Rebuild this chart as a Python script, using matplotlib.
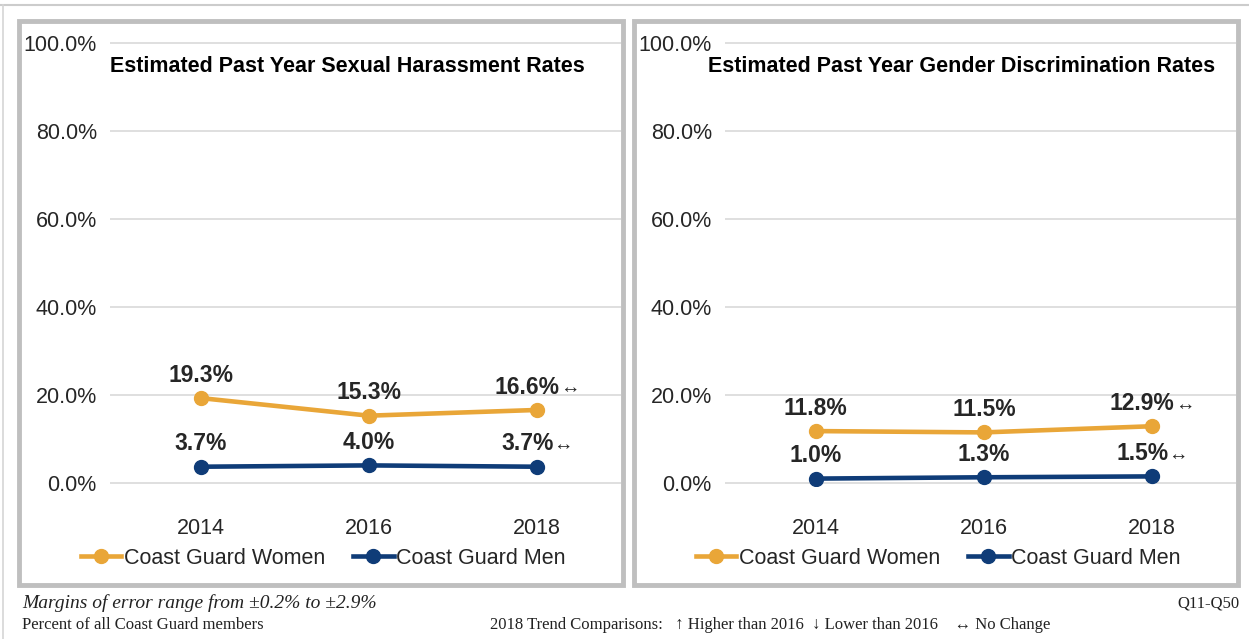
import matplotlib
matplotlib.use("Agg")
import matplotlib.pyplot as plt
from matplotlib.lines import Line2D
from matplotlib.patches import Rectangle
from matplotlib.offsetbox import TextArea, HPacker, AnnotationBbox

plt.rcParams['font.family'] = ['Liberation Sans', 'DejaVu Sans']

# ---- data ----
years = ['2014', '2016', '2018']
sh_women = [19.3, 15.3, 16.6]
sh_men = [3.7, 4.0, 3.7]
gd_women = [11.8, 11.5, 12.9]
gd_men = [1.0, 1.3, 1.5]
trend_women = ['', '', '↔']
trend_sh_men = ['', '', '↔']
trend_gd_men = ['', '', '↔']
yticks = [0, 20, 40, 60, 80, 100]
titles = ['Estimated Past Year Sexual Harassment Rates',
          'Estimated Past Year Gender Discrimination Rates']
series_names = ['Coast Guard Women', 'Coast Guard Men']

GOLD = '#E9A638'
NAVY = '#0F3C78'
GRID = '#D9D9D9'
BORDER = '#BFBFBF'
TXT = '#262626'

W, H = 1249, 639
fig = plt.figure(figsize=(W / 100, H / 100), dpi=100)
fig.patch.set_facecolor('white')

def fx(px):
    return px / W

def fy(py):
    return 1 - py / H

# outer frame lines
fig.add_artist(Line2D([0, 1], [fy(5), fy(5)], transform=fig.transFigure, color='#CCCCCC', lw=1.5))
fig.add_artist(Line2D([fx(3), fx(3)], [0, fy(5)], transform=fig.transFigure, color='#D5D5D5', lw=1.2))

panels = [
    dict(off=0, women=sh_women, men=sh_men, tw=trend_women, tm=trend_sh_men, title=titles[0]),
    dict(off=615, women=gd_women, men=gd_men, tw=trend_women, tm=trend_gd_men, title=titles[1]),
]

def add_label(ax, x, y, num, arrow):
    children = [TextArea(num, textprops=dict(fontweight='bold', fontsize=16.5, color=TXT))]
    if arrow:
        children.append(TextArea(arrow, textprops=dict(fontsize=14, color=TXT)))
    pk = HPacker(children=children, align='baseline', pad=0, sep=0)
    ab = AnnotationBbox(pk, (x, y), xybox=(0, 16.5), xycoords='data',
                        boxcoords='offset points', box_alignment=(0.5, 0.5),
                        frameon=False, pad=0)
    ax.add_artist(ab)

for p in panels:
    off = p['off']
    # panel border
    fig.add_artist(Rectangle((fx(19 + off), fy(585)), fx(604), 564 / H,
                             transform=fig.transFigure, fill=False,
                             edgecolor=BORDER, lw=3.5))
    # axes: x 110..620 px, y data 0->483px, 100->43px
    ppu = 440 / 100.0
    ymin, ymax = -0.6, 100.6
    top_px = 483 - ymax * ppu
    bot_px = 483 - ymin * ppu
    left_px, right_px = 110 + off, 621 + off
    ax = fig.add_axes([fx(left_px), fy(bot_px), fx(right_px - left_px), (bot_px - top_px) / H])
    ax.set_facecolor('none')
    x = list(range(len(years)))
    ax.set_xlim(-0.54, 2.5)
    ax.set_ylim(ymin, ymax)
    for s in ax.spines.values():
        s.set_visible(False)
    ax.set_yticks(yticks)
    ax.set_yticklabels([f'{v:.1f}%' for v in yticks])
    ax.set_xticks(x)
    ax.set_xticklabels(years)
    ax.tick_params(axis='y', length=0, pad=9.5, labelsize=15.5, labelcolor=TXT)
    ax.tick_params(axis='x', length=0, pad=23.5, labelsize=15.5, labelcolor=TXT)
    ax.yaxis.grid(True, color=GRID, lw=1.2)
    ax.set_axisbelow(True)

    ax.plot(x, p['women'], color=GOLD, lw=3.3, marker='o', ms=10, zorder=3)
    ax.plot(x, p['men'], color=NAVY, lw=3.3, marker='o', ms=10, zorder=3)
    for i in x:
        add_label(ax, i, p['women'][i], f"{p['women'][i]:.1f}%", p['tw'][i])
        add_label(ax, i, p['men'][i], f"{p['men'][i]:.1f}%", p['tm'][i])

    fig.text(fx(347 + off), fy(66), p['title'], ha='center', va='center',
             fontsize=15.5, fontweight='bold', color='black')

    handles = [Line2D([], [], color=GOLD, lw=3.3, marker='o', ms=10),
               Line2D([], [], color=NAVY, lw=3.3, marker='o', ms=10)]
    fig.legend(handles, series_names, loc='center',
               bbox_to_anchor=(fx(323 + off), fy(558)), ncol=2, frameon=False,
               fontsize=15.5, handlelength=1.9, handletextpad=0.1,
               columnspacing=1.3, labelcolor=TXT, borderpad=0, numpoints=1)

serif = ['Liberation Serif', 'DejaVu Serif']
fig.text(fx(22), fy(603), 'Margins of error range from ±0.2% to ±2.9%', ha='left', va='center',
         fontsize=14, style='italic', family=serif, color='#222222')
fig.text(fx(22), fy(625), 'Percent of all Coast Guard members', ha='left', va='center',
         fontsize=12, family=serif, color='#222222')
fig.text(fx(490), fy(625), '2018 Trend Comparisons:   ↑ Higher than 2016  ↓ Lower than 2016    ↔ No Change',
         ha='left', va='center', fontsize=12, family=serif, color='#222222')
fig.text(fx(1240), fy(603), 'Q11-Q50', ha='right', va='center',
         fontsize=12, family=serif, color='#222222')

fig.savefig('out.png', dpi=100, facecolor='white')
